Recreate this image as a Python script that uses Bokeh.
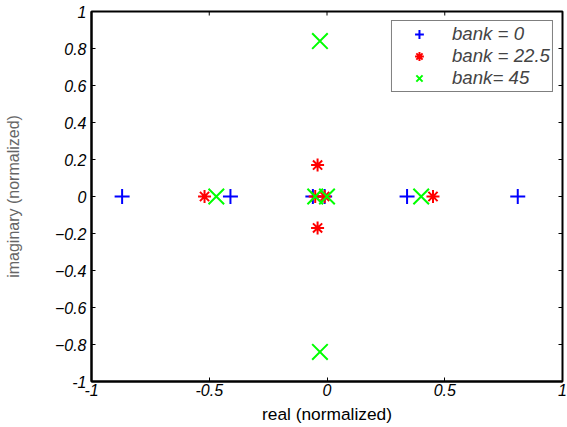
import math
from bokeh.plotting import figure
from bokeh.models import Range1d, FixedTicker, Legend, LegendItem
from bokeh.embed import file_html
from bokeh.resources import INLINE

# data
bank0_re = [-0.87, -0.41, -0.06, -0.01, 0.34, 0.81]
bank0_im = [0, 0, 0, 0, 0, 0]
bank22_re = [-0.52, -0.04, -0.04, -0.05, -0.01, 0.45]
bank22_im = [0, 0.17, -0.17, 0, 0, 0]
bank45_re = [-0.47, -0.03, -0.03, -0.05, 0.0, 0.40]
bank45_im = [0, 0.84, -0.84, 0, 0, 0]
x_ticks = [-1, -0.5, 0, 0.5, 1]
y_ticks = [-1, -0.8, -0.6, -0.4, -0.2, 0, 0.2, 0.4, 0.6, 0.8, 1]

p = figure(width=567, height=427, output_backend="svg", toolbar_location=None,
           x_range=Range1d(-1, 1), y_range=Range1d(-1, 1),
           min_border_left=91, min_border_right=5, min_border_top=11, min_border_bottom=46)
p.background_fill_color = "white"
p.border_fill_color = "white"
p.outline_line_color = "black"
p.outline_line_width = 2
p.xgrid.visible = False
p.ygrid.visible = False

# box ticks on top and right (inward)
p.ray(x=x_ticks, y=[1] * len(x_ticks), length=4, length_units="screen",
      angle=-math.pi / 2, line_color="black", line_width=1)
p.ray(x=[1] * len(y_ticks), y=y_ticks, length=4, length_units="screen",
      angle=math.pi, line_color="black", line_width=1)

r0 = p.scatter(bank0_re, bank0_im, marker="cross", size=15, line_color="#0000ff", line_width=2)
r1 = p.scatter(bank22_re, bank22_im, marker="asterisk", size=13, line_color="#ff0000", line_width=2)
r2 = p.scatter(bank45_re, bank45_im, marker="x", size=22, line_color="#00ff00", line_width=2)

def style(ax):
    ax.major_tick_in = 4
    ax.major_tick_out = 0
    ax.minor_tick_in = 0
    ax.minor_tick_out = 0
    ax.axis_line_color = "black"
    ax.axis_line_width = 2
    ax.major_tick_line_color = "black"
    ax.major_label_text_font = "Liberation Sans"
    ax.major_label_text_font_style = "italic"
    ax.major_label_text_font_size = "12pt"
    ax.major_label_text_color = "black"
    ax.axis_label_text_font = "Liberation Sans"
    ax.axis_label_text_font_style = "normal"
    ax.axis_label_text_font_size = "13pt"
    ax.axis_label_text_color = "black"

xa = p.xaxis[0]
xa.ticker = FixedTicker(ticks=x_ticks)
xa.major_label_overrides = {-1: "-1", -0.5: "-0.5", 0: "0", 0.5: "0.5", 1: "1"}
xa.axis_label = "real (normalized)"
xa.axis_label_standoff = 5
xa.major_label_standoff = 2
style(xa)

ya = p.yaxis[0]
ya.ticker = FixedTicker(ticks=y_ticks)
ya.major_label_overrides = {-1: "-1", 0: "0", 1: "1"}
ya.axis_label = "imaginary (normalized)"
ya.axis_label_standoff = 30
ya.major_label_standoff = 5
style(ya)
ya.axis_label_text_font_size = "12pt"
ya.axis_label_text_color = "#666666"

legend = Legend(items=[LegendItem(label="bank = 0", renderers=[r0]),
                       LegendItem(label="bank = 22.5", renderers=[r1]),
                       LegendItem(label="bank= 45", renderers=[r2])],
                location="top_right")
legend.label_text_font = "Liberation Sans"
legend.label_text_font_style = "italic"
legend.label_text_font_size = "14pt"
legend.border_line_color = "black"
legend.border_line_width = 1
legend.glyph_height = 22
legend.glyph_width = 50
legend.label_height = 22
legend.spacing = 0
legend.padding = 2
legend.margin = 9
legend.label_standoff = 8
p.add_layout(legend)

open("out.html", "w").write(file_html(p, INLINE))
